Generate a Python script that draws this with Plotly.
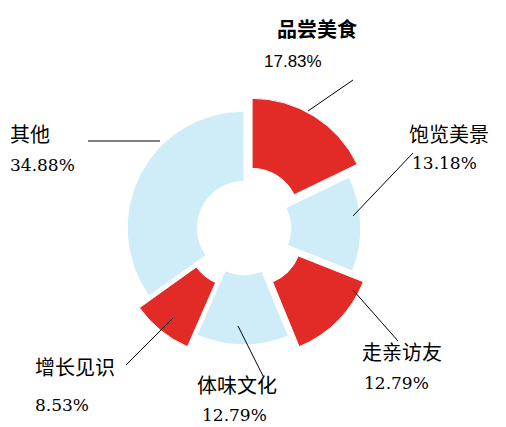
import plotly.graph_objects as go

labels = ['品尝美食', '饱览美景', '走亲访友', '体味文化', '增长见识', '其他']
values = [17.83, 13.18, 12.79, 12.79, 8.53, 34.88]
pct_text = ['17.83%', '13.18%', '12.79%', '12.79%', '8.53%', '34.88%']
red, blue = '#E22B26', '#CFEDF8'
colors = [red, blue, red, blue, red, blue]
pulls = [0.13, 0, 0.13, 0, 0.13, 0]

W, H = 506, 427
R = 132  # domain radius (pulled slices shrink the pie to fit)
cx, cy = 236, 220

fig = go.Figure(go.Pie(
    labels=labels, values=values, sort=False, direction='clockwise', rotation=0,
    hole=0.4, pull=pulls, textinfo='none', hoverinfo='label+value',
    marker=dict(colors=colors, line=dict(color='white', width=1)),
    domain=dict(x=[(cx - R) / W, (cx + R) / W], y=[1 - (cy + R) / H, 1 - (cy - R) / H]),
))

# label positions (pixels) for name, percentage; leader line endpoints
label_pos = [(275, 20, 262, 53), (407, 125, 410, 155), (360, 343, 362, 375),
             (195, 376, 200, 407), (33, 358, 33, 397), (8, 125, 8, 157)]
leaders = [(300, 103, 345, 72), (345, 208, 405, 145), (345, 282, 390, 333),
           (230, 318, 255, 368), (165, 310, 118, 357), (80, 133, 152, 133)]

annotations = []
for i, (lx, ly, px, py) in enumerate(label_pos):
    bold = i == 0
    annotations.append(dict(x=(lx - 8) / W, y=1 - ly / H, xref='paper', yref='paper', xanchor='left',
                            yanchor='middle', showarrow=False, text=('<b>%s</b>' % labels[i]) if bold else labels[i],
                            font=dict(size=20, color='black', family='Noto Sans CJK SC')))
    annotations.append(dict(x=(px - 8) / W, y=1 - py / H, xref='paper', yref='paper', xanchor='left',
                            yanchor='middle', showarrow=False, text=pct_text[i],
                            font=dict(size=17, color='black',
                                      family='Liberation Sans' if bold else 'DejaVu Serif')))

shapes = [dict(type='line', xref='paper', yref='paper', x0=a / W, y0=1 - b / H, x1=c / W, y1=1 - d / H,
               line=dict(color='black', width=1)) for a, b, c, d in leaders]

fig.update_layout(width=W, height=H, margin=dict(l=0, r=0, t=0, b=0), showlegend=False,
                  paper_bgcolor='white', plot_bgcolor='white', annotations=annotations, shapes=shapes)
fig.write_html('out.html')
